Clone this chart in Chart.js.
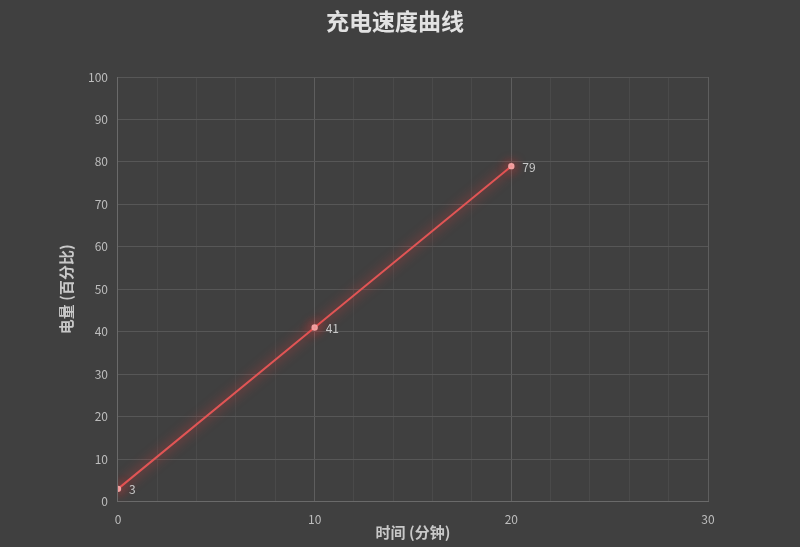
<!DOCTYPE html>
<html>
<head>
<meta charset="utf-8">
<script src="https://cdn.jsdelivr.net/npm/chart.js@4/dist/chart.umd.min.js"></script>
<style>
  html, body { margin: 0; padding: 0; background: #404040; }
  #wrap { width: 800px; height: 547px; }
</style>
</head>
<body>
<div id="wrap"><canvas id="chargeChart"></canvas></div>
<script>
const chartTitle = '充电速度曲线';
const minutes = [0, 10, 20];
const battery = [3, 41, 79];
const xTickStep = 2;
const yTickStep = 10;

const font = "'Noto Sans CJK SC', 'Noto Sans', sans-serif";

// soft red glow under the line
const glowPlugin = {
  id: 'glow',
  beforeDatasetsDraw(chart) {
    const ctx = chart.ctx;
    ctx.save();
    ctx.shadowColor = 'rgba(255, 60, 60, 0.9)';
    ctx.shadowBlur = 12;
  },
  afterDatasetsDraw(chart) {
    chart.ctx.restore();
  }
};

// value next to each point + title centred on the whole canvas
const labelPlugin = {
  id: 'pointLabels',
  afterDatasetsDraw(chart) {
    const ctx = chart.ctx;
    const meta = chart.getDatasetMeta(0);
    ctx.save();
    ctx.font = '12px ' + font;
    ctx.fillStyle = '#c8c8c8';
    ctx.textAlign = 'left';
    ctx.textBaseline = 'middle';
    meta.data.forEach(function (pt, i) {
      ctx.fillText(String(battery[i]), pt.x + 11, pt.y + 1);
    });
    ctx.font = 'bold 23px ' + font;
    ctx.fillStyle = '#e2e2e2';
    ctx.textAlign = 'center';
    ctx.fillText(chartTitle, chart.width / 2 - 5, 21);
    ctx.restore();
  }
};

const chargeChart = new Chart(document.getElementById('chargeChart'), {
  type: 'line',
  data: {
    datasets: [{
      label: '电量',
      data: minutes.map((m, i) => ({ x: m, y: battery[i] })),
      borderColor: '#e05555',
      borderWidth: 2,
      pointRadius: 2.2,
      pointBackgroundColor: '#f2a0a0',
      pointBorderColor: '#f2a0a0',
      tension: 0
    }]
  },
  options: {
    responsive: true,
    maintainAspectRatio: false,
    animation: false,
    layout: { padding: { left: 57, right: 92, top: 77, bottom: 6 } },
    plugins: {
      legend: { display: false },
      tooltip: { enabled: false },
      title: { display: false }
    },
    scales: {
      x: {
        type: 'linear',
        min: 0,
        max: 30,
        ticks: {
          stepSize: xTickStep,
          autoSkip: false,
          maxRotation: 0,
          padding: 11,
          color: '#bdbdbd',
          font: { family: font, size: 12 },
          callback: (v) => (v % 10 === 0 ? v : '')
        },
        grid: {
          color: (c) => (c.tick && c.tick.value % 10 === 0 ? '#5e5e5e' : '#4a4a4a'),
          drawTicks: false
        },
        border: { color: '#6a6a6a' },
        title: {
          display: true,
          text: '时间 (分钟)',
          color: '#c8c8c8',
          font: { family: font, size: 15, weight: 'bold' },
          padding: { top: -15, bottom: 0 }
        }
      },
      y: {
        min: 0,
        max: 100,
        ticks: {
          stepSize: yTickStep,
          color: '#bdbdbd',
          padding: 10,
          font: { family: font, size: 12 }
        },
        grid: { color: '#575757', drawTicks: false },
        border: { color: '#6a6a6a' },
        title: {
          display: true,
          text: '电量 (百分比)',
          color: '#c8c8c8',
          font: { family: font, size: 15, weight: 'bold' },
          padding: { top: 0, bottom: 3 }
        }
      }
    }
  },
  plugins: [glowPlugin, labelPlugin]
});
</script>
</body>
</html>
